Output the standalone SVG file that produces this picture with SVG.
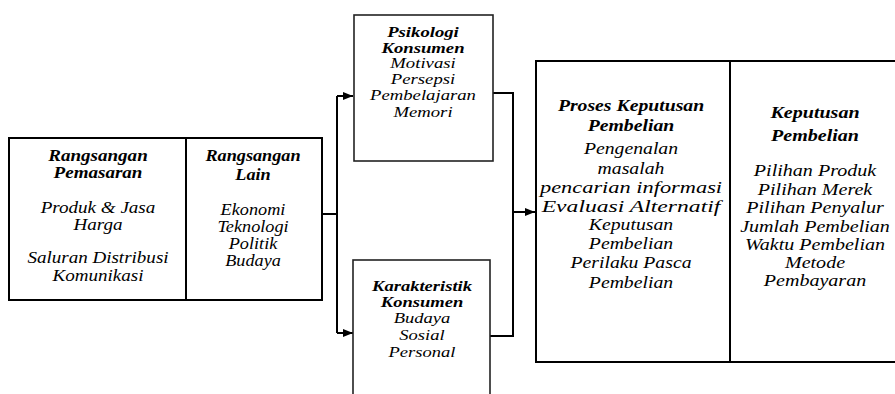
<svg xmlns="http://www.w3.org/2000/svg" width="895" height="394" viewBox="0 0 895 394">
<style>
text{font-family:'Liberation Serif',serif;font-style:italic;fill:#000;text-anchor:middle}
.b{font-weight:bold}
.box{fill:#fff;stroke:#000;stroke-width:2}
.thin{fill:#fff;stroke:#222;stroke-width:1.6}
.con{fill:none;stroke:#000;stroke-width:2}
</style>
<defs>
<marker id="ah" markerUnits="userSpaceOnUse" markerWidth="10" markerHeight="8" refX="10" refY="4" orient="auto">
<path d="M0,0 L10,4 L0,8 z" fill="#000"/>
</marker>
</defs>
<g id="connectors">
<path class="con" d="M322,214 H337"/>
<path class="con" d="M337,96 V333"/>
<path class="con" d="M337,96 H353" marker-end="url(#ah)"/>
<path class="con" d="M337,333 H353" marker-end="url(#ah)"/>
<path class="con" d="M493,93 H513 V336 H490"/>
<path class="con" d="M513,212 H535" marker-end="url(#ah)"/>
</g>
<g id="rangsangan">
<rect class="box" x="9" y="138" width="313" height="162"/>
<line x1="186" y1="138" x2="186" y2="300" stroke="#000" stroke-width="2"/>
<g transform="translate(98,0) scale(1.19,1)" font-size="16">
<text x="0" y="161" class="b">Rangsangan</text>
<text x="0" y="178" class="b">Pemasaran</text>
<text x="0" y="213">Produk &amp; Jasa</text>
<text x="0" y="230">Harga</text>
<text x="0" y="263">Saluran Distribusi</text>
<text x="0" y="281">Komunikasi</text>
</g>
<g transform="translate(253,0) scale(1.14,1)" font-size="16">
<text x="0" y="161" class="b">Rangsangan</text>
<text x="0" y="180" class="b">Lain</text>
<text x="0" y="215">Ekonomi</text>
<text x="0" y="232">Teknologi</text>
<text x="0" y="249">Politik</text>
<text x="0" y="266">Budaya</text>
</g>
</g>
<g id="psikologi">
<rect class="thin" x="354" y="15" width="139" height="146"/>
<g transform="translate(423,0) scale(1.29,1)" font-size="14.5">
<text x="0" y="37" class="b">Psikologi</text>
<text x="0" y="53" class="b">Konsumen</text>
<text x="0" y="68">Motivasi</text>
<text x="0" y="84">Persepsi</text>
<text x="0" y="100">Pembelajaran</text>
<text x="0" y="117">Memori</text>
</g>
</g>
<g id="karakteristik">
<rect class="thin" x="353" y="260" width="137" height="145"/>
<g transform="translate(422,0) scale(1.28,1)" font-size="14.5">
<text x="0" y="291" class="b">Karakteristik</text>
<text x="0" y="307" class="b">Konsumen</text>
<text x="0" y="323">Budaya</text>
<text x="0" y="340">Sosial</text>
<text x="0" y="357">Personal</text>
</g>
</g>
<g id="keputusan">
<rect class="box" x="536" y="61" width="366" height="301"/>
<line x1="730" y1="61" x2="730" y2="362" stroke="#000" stroke-width="2"/>
<g transform="translate(631,0) scale(1.16,1)" font-size="17">
<text x="0" y="111" class="b">Proses Keputusan</text>
<text x="0" y="131" class="b">Pembelian</text>
<text x="0" y="154">Pengenalan</text>
<text x="0" y="174">masalah</text>
<text x="0" y="193" textLength="157" lengthAdjust="spacingAndGlyphs">pencarian informasi</text>
<text x="0" y="212" textLength="154" lengthAdjust="spacingAndGlyphs">Evaluasi Alternatif</text>
<text x="0" y="230">Keputusan</text>
<text x="0" y="249">Pembelian</text>
<text x="0" y="268">Perilaku Pasca</text>
<text x="0" y="288">Pembelian</text>
</g>
<g transform="translate(815,0) scale(1.18,1)" font-size="17">
<text x="0" y="118" class="b">Keputusan</text>
<text x="0" y="141" class="b">Pembelian</text>
<text x="0" y="176">Pilihan Produk</text>
<text x="0" y="195">Pilihan Merek</text>
<text x="0" y="213">Pilihan Penyalur</text>
<text x="0" y="232">Jumlah Pembelian</text>
<text x="0" y="250">Waktu Pembelian</text>
<text x="0" y="268">Metode</text>
<text x="0" y="286">Pembayaran</text>
</g>
</g>
</svg>
